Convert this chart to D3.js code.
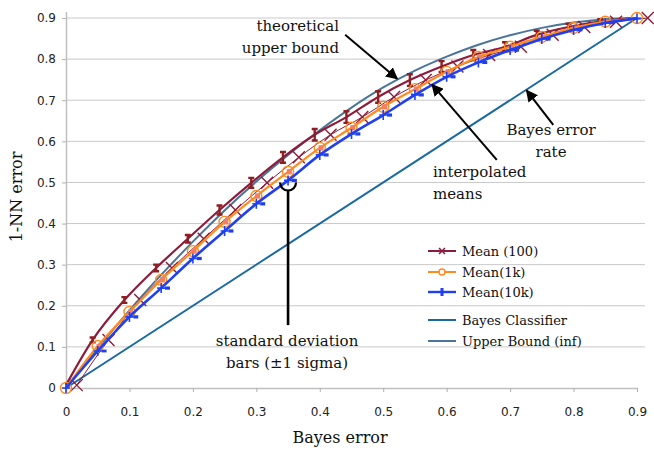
<!DOCTYPE html>
<html>
<head>
<meta charset="utf-8">
<script src="https://cdn.jsdelivr.net/npm/d3@7"></script>
<style>
  body { margin: 0; background: #fff; }
  .tick text { font-family: "DejaVu Sans", sans-serif; font-size: 12px; fill: #222; }
  .serif { font-family: "DejaVu Serif", serif; fill: #111; }
</style>
</head>
<body>
<svg id="chart" width="654" height="450"></svg>
<script>
// bayes error (x) at which every series was sampled
var bayesErr = [0, 0.05, 0.1, 0.15, 0.2, 0.25, 0.3, 0.35, 0.4, 0.45, 0.5, 0.55, 0.6, 0.65, 0.7, 0.75, 0.8, 0.85, 0.9];

// 1-NN error
var mean100  = [0.007, 0.117, 0.214, 0.292, 0.363, 0.433, 0.499, 0.561, 0.616, 0.659, 0.708, 0.749, 0.782, 0.81, 0.83, 0.859, 0.878, 0.891, 0.9];
var sd100    = [0, 0.006, 0.007, 0.008, 0.009, 0.011, 0.012, 0.013, 0.014, 0.014, 0.014, 0.014, 0.013, 0.012, 0.011, 0.01, 0.008, 0.006, 0];
var mean1k   = [0, 0.102, 0.185, 0.263, 0.333, 0.404, 0.467, 0.526, 0.584, 0.633, 0.684, 0.727, 0.769, 0.805, 0.83, 0.854, 0.876, 0.891, 0.9];
var sd1k     = [0, 0.003, 0.004, 0.004, 0.004, 0.004, 0.004, 0.004, 0.004, 0.004, 0.004, 0.004, 0.004, 0.004, 0.004, 0.004, 0.003, 0.003, 0];
var mean10k  = [0, 0.09, 0.173, 0.243, 0.315, 0.382, 0.448, 0.505, 0.567, 0.618, 0.664, 0.713, 0.757, 0.792, 0.822, 0.849, 0.871, 0.888, 0.899];
var sd10k    = [0, 0.001, 0.0015, 0.0015, 0.0015, 0.0015, 0.0015, 0.0015, 0.0015, 0.0015, 0.0015, 0.0015, 0.0015, 0.0015, 0.0015, 0.0015, 0.001, 0.001, 0];
var upperBound = [0, 0.097, 0.189, 0.275, 0.356, 0.432, 0.502, 0.567, 0.627, 0.682, 0.731, 0.772, 0.806, 0.835, 0.858, 0.876, 0.889, 0.897, 0.9];
var bayesLine  = [0, 0.9];
var bayesLineX = [0, 0.9];

var yTicks = [0, 0.1, 0.2, 0.3, 0.4, 0.5, 0.6, 0.7, 0.8, 0.9];
var xTicks = [0, 0.1, 0.2, 0.3, 0.4, 0.5, 0.6, 0.7, 0.8, 0.9];
var legendNames = ["Mean (100)", "Mean(1k)", "Mean(10k)", "Bayes Classifier", "Upper Bound (inf)"];

var col = {
  red: "#8c1c3c", redBar: "#8e1e22", orange: "#ff8a1e", salmon: "#f47e5e",
  blue: "#1f3ff2", bayes: "#1a6aa0", upper: "#4a7598", grid: "#c8c8c8"
};

var svg = d3.select("#chart");

// set the ranges
var x = d3.scaleLinear().domain([0, 0.9]).range([66, 637]);
var y = d3.scaleLinear().domain([0, 0.9]).range([388, 18]);

// horizontal gridlines
svg.append("g").selectAll("line")
  .data(yTicks.slice(1))
  .enter().append("line")
  .attr("x1", x(0)).attr("x2", 645)
  .attr("y1", function(d) { return y(d); })
  .attr("y2", function(d) { return y(d); })
  .attr("stroke", col.grid).attr("stroke-width", 1);

var fmt = function(d) { return d === 0 ? "0" : d3.format(".1f")(d); };

// axes
var gx = svg.append("g")
  .attr("transform", "translate(0," + y(0) + ")")
  .call(d3.axisBottom(x).tickValues(xTicks).tickFormat(fmt).tickSize(4).tickSizeOuter(0).tickPadding(15));
var gy = svg.append("g")
  .attr("transform", "translate(" + x(0) + ",0)")
  .call(d3.axisLeft(y).tickValues(yTicks).tickFormat(fmt).tickSize(4).tickSizeOuter(0).tickPadding(6));
[gx, gy].forEach(function(g) {
  g.select(".domain").attr("stroke", "#c0c0c0").attr("stroke-width", 1.5);
  g.selectAll(".tick line").attr("stroke", "#b0b0b0");
});
gy.select(".domain").attr("d", "M0.5,12V392");

// axis titles
svg.append("text").attr("class", "serif")
  .attr("x", 340).attr("y", 443).attr("text-anchor", "middle")
  .style("font-size", "16px").text("Bayes error");
svg.append("text").attr("class", "serif")
  .attr("transform", "translate(22,197) rotate(-90)").attr("text-anchor", "middle")
  .style("font-size", "16px").text("1-NN error");

// build point lists from the arrays
function pts(xs, ys, off) {
  return xs.map(function(d, i) { return [Math.max(0, d + off), ys[i]]; });
}
var line = d3.line()
  .curve(d3.curveMonotoneX)
  .x(function(d) { return x(d[0]); })
  .y(function(d) { return y(d[1]); });
var straight = d3.line()
  .x(function(d) { return x(d[0]); })
  .y(function(d) { return y(d[1]); });

// jitter offsets used for each series (in bayes-error units)
var OFF_X100 = 0.017, OFF_BAR100 = -0.008, OFF_BAR1K = 0.002, OFF_BAR10K = 0.01;

// Bayes classifier
svg.append("path").datum(pts(bayesLineX, bayesLine, 0))
  .attr("d", straight).attr("fill", "none")
  .attr("stroke", col.bayes).attr("stroke-width", 2);

// theoretical upper bound
svg.append("path").datum(pts(bayesErr, upperBound, 0))
  .attr("d", line).attr("fill", "none")
  .attr("stroke", col.upper).attr("stroke-width", 2);

// Mean (100): thick line through the error bars
svg.append("path").datum(pts(bayesErr, mean100, OFF_BAR100))
  .attr("d", line).attr("fill", "none")
  .attr("stroke", col.red).attr("stroke-width", 2.2);

// Mean (100): thin line with x markers
svg.append("path").datum(pts(bayesErr, mean100, OFF_X100))
  .attr("d", line).attr("fill", "none")
  .attr("stroke", col.red).attr("stroke-width", 1);
svg.append("g").selectAll("path")
  .data(pts(bayesErr, mean100, OFF_X100))
  .enter().append("path")
  .attr("transform", function(d) { return "translate(" + x(d[0]) + "," + y(d[1]) + ")"; })
  .attr("d", "M-6,-6L6,6M-6,6L6,-6")
  .attr("stroke", col.red).attr("stroke-width", 1.4).attr("fill", "none");

// Mean (100) error bars
svg.append("g").selectAll("path")
  .data(bayesErr.map(function(d, i) { return {x: d + OFF_BAR100, m: mean100[i], s: sd100[i]}; })
    .filter(function(d) { return d.s > 0; }))
  .enter().append("path")
  .attr("d", function(d) {
    var cx = x(d.x), y1 = y(d.m + d.s), y2 = y(d.m - d.s);
    return "M" + cx + "," + y1 + "V" + y2 + "M" + (cx - 3) + "," + y1 + "H" + (cx + 3) +
           "M" + (cx - 3) + "," + y2 + "H" + (cx + 3);
  })
  .attr("stroke", col.redBar).attr("stroke-width", 2.4).attr("fill", "none");

// Mean(1k)
svg.append("path").datum(pts(bayesErr, mean1k, 0))
  .attr("d", line).attr("fill", "none")
  .attr("stroke", col.orange).attr("stroke-width", 2.2);
svg.append("g").selectAll("rect")
  .data(bayesErr.map(function(d, i) { return {x: d + OFF_BAR1K, m: mean1k[i], s: sd1k[i]}; })
    .filter(function(d) { return d.s > 0; }))
  .enter().append("rect")
  .attr("x", function(d) { return x(d.x) - 2.5; })
  .attr("y", function(d) { return y(d.m + d.s) - 1; })
  .attr("width", 5)
  .attr("height", function(d) { return y(d.m - d.s) - y(d.m + d.s) + 2; })
  .attr("fill", col.salmon);
svg.append("g").selectAll("circle")
  .data(pts(bayesErr, mean1k, 0))
  .enter().append("circle")
  .attr("cx", function(d) { return x(d[0]); })
  .attr("cy", function(d) { return y(d[1]); })
  .attr("r", 5.5)
  .attr("fill", "none").attr("stroke", col.orange).attr("stroke-width", 1.4);

// Mean(10k)
svg.append("path").datum(pts(bayesErr, mean10k, 0))
  .attr("d", line).attr("fill", "none")
  .attr("stroke", col.blue).attr("stroke-width", 2.6);
svg.append("g").selectAll("path")
  .data(pts(bayesErr, mean10k, 0))
  .enter().append("path")
  .attr("transform", function(d) { return "translate(" + x(d[0]) + "," + y(d[1]) + ")"; })
  .attr("d", "M0,-5V5M-4,0H4")
  .attr("stroke", col.blue).attr("stroke-width", 1.6);
svg.append("g").selectAll("rect")
  .data(bayesErr.map(function(d, i) { return {x: d + OFF_BAR10K, m: mean10k[i], s: sd10k[i]}; })
    .filter(function(d) { return d.s > 0; }))
  .enter().append("rect")
  .attr("x", function(d) { return x(d.x) - 2.5; })
  .attr("y", function(d) { return y(d.m + d.s) - 1; })
  .attr("width", 5)
  .attr("height", function(d) { return y(d.m - d.s) - y(d.m + d.s) + 2; })
  .attr("fill", col.blue);

// legend
var legend = svg.append("g").attr("transform", "translate(428,251)");
var rowY = [0, 21, 41, 69, 90];
legendNames.forEach(function(name, i) {
  var g = legend.append("g").attr("transform", "translate(0," + rowY[i] + ")");
  var stroke = [col.red, col.orange, col.blue, col.bayes, col.upper][i];
  g.append("line").attr("x1", 0).attr("x2", 28).attr("y1", 0).attr("y2", 0)
    .attr("stroke", stroke).attr("stroke-width", i === 2 ? 2.4 : 2);
  if (i === 0) g.append("path").attr("d", "M11,-3L17,3M11,3L17,-3").attr("stroke", stroke).attr("stroke-width", 1.5);
  if (i === 1) g.append("circle").attr("cx", 14).attr("cy", 0).attr("r", 3).attr("fill", "#fff").attr("stroke", stroke).attr("stroke-width", 1.5);
  if (i === 2) g.append("rect").attr("x", 12.5).attr("y", -4).attr("width", 3).attr("height", 8).attr("fill", stroke);
  g.append("text").attr("class", "serif").attr("x", 34).attr("y", 4.5)
    .style("font-size", "13px").text(name);
});

// annotations
svg.append("defs").append("marker")
  .attr("id", "arrow").attr("viewBox", "0 0 10 10")
  .attr("refX", 9).attr("refY", 5)
  .attr("markerWidth", 6).attr("markerHeight", 6)
  .attr("markerUnits", "strokeWidth").attr("orient", "auto")
  .append("path").attr("d", "M0,0L10,5L0,10Z").attr("fill", "#000");

function arrow(x1, y1, x2, y2) {
  svg.append("line")
    .attr("x1", x(x1)).attr("y1", y(y1)).attr("x2", x(x2)).attr("y2", y(y2))
    .attr("stroke", "#000").attr("stroke-width", 2).attr("marker-end", "url(#arrow)");
}
function label(lines, px, py, anchor) {
  var t = svg.append("text").attr("class", "serif")
    .attr("text-anchor", anchor).style("font-size", "15px");
  lines.forEach(function(s, i) {
    t.append("tspan").attr("x", px).attr("y", py + i * 22).text(s);
  });
}

label(["theoretical", "upper bound"], 339, 31, "end");
arrow(0.44, 0.859, 0.522, 0.752);

label(["interpolated", "means"], 433, 177, "start");
arrow(0.679, 0.555, 0.577, 0.738);

label(["Bayes error", "rate"], 551, 135, "middle");
arrow(0.768, 0.64, 0.726, 0.724);

label(["standard deviation", "bars (\u00b11 sigma)"], 287, 346, "middle");
var cx0 = x(0.35), cy0 = y(0.495);
svg.append("path")
  .attr("d", "M" + (cx0 - 8) + "," + (cy0 - 2) + "A8,8 0 0 0 " + (cx0 + 8) + "," + (cy0 - 2))
  .attr("fill", "none").attr("stroke", "#000").attr("stroke-width", 2.2);
svg.append("line")
  .attr("x1", cx0).attr("x2", cx0).attr("y1", cy0 + 6).attr("y2", y(0.153))
  .attr("stroke", "#000").attr("stroke-width", 2.6);
</script>
</body>
</html>
